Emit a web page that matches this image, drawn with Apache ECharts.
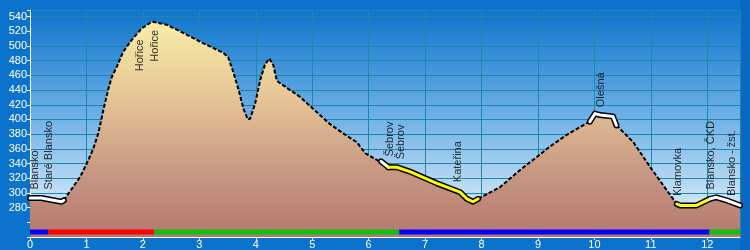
<!DOCTYPE html>
<html lang="cs">
<head>
<meta charset="UTF-8">
<title>Profil trasy</title>
<script src="https://cdn.jsdelivr.net/npm/echarts@6.0.0/dist/echarts.min.js"></script>
<style>
  html, body { margin: 0; padding: 0; background: #0b73cc; }
  #chart { width: 750px; height: 250px; }
</style>
</head>
<body>
<div id="chart"></div>
<script>
// profil: vzdalenost [km], nadmorska vyska [m]
const dist = [0, 0.2, 0.41, 0.56, 0.60, 0.68, 0.89, 1.03, 1.12, 1.21, 1.30, 1.39, 1.45, 1.54, 1.65, 1.80, 1.98, 2.16, 2.24, 2.42,
  2.66, 3.01, 3.25, 3.42, 3.51, 3.60, 3.69, 3.78, 3.86, 3.90, 3.99, 4.08, 4.16, 4.24, 4.31, 4.37, 4.40, 4.78, 5.08, 5.31,
  5.55, 5.79, 5.85, 5.94, 6.17, 6.22, 6.35, 6.50, 6.73, 7.21, 7.62, 7.74, 7.85, 7.94, 8.33, 8.68, 8.98, 9.21, 9.51, 9.80,
  9.92, 10.01, 10.10, 10.33, 10.39, 10.69, 10.99, 11.28, 11.46, 11.52, 11.81, 12.05, 12.16, 12.34, 12.58];
const elev = [293, 293, 290, 288, 290, 299, 322, 344, 360, 381, 413, 442, 458, 472, 492, 508, 524, 533, 532, 529,
  520, 506, 497, 491, 485, 465, 442, 415, 400, 401, 422, 454, 474, 483, 474, 454, 451, 431, 410, 394,
  381, 369, 363, 354, 344, 343, 335, 335, 329, 313, 301, 292, 288, 292, 308, 331, 349, 363, 379, 392,
  397, 408, 406, 404, 392, 369, 335, 304, 285, 283, 283, 292, 294, 290, 283];

// useky cary: od, do, typ
const segFrom = [0, 0.60, 6.22, 6.35, 7.94, 9.92, 10.39, 11.46, 12.05];
const segTo   = [0.60, 6.22, 6.35, 7.94, 9.92, 10.39, 11.46, 12.05, 12.58];
const segType = ['white', 'dash', 'white', 'yellow', 'dash', 'white', 'dash', 'yellow', 'white'];

// pruh dole: od, do, barva
const barFrom = [0, 0.32, 2.2, 6.54, 12.04];
const barTo   = [0.32, 2.2, 6.54, 12.04, 12.58];
const barColor = ['#0000ff', '#ff0000', '#10c010', '#0000ff', '#10c010'];

// popisky zastavek
const stopNames = ['Blansko', 'Staré Blansko', 'Hořice', 'Hořice', 'Šebrov', 'Šebrov', 'Kateřina', 'Olešná', 'Klamovka', 'Blansko, ČKD', 'Blansko - žst.'];
const stopDist  = [0.09, 0.34, 1.95, 2.23, 6.38, 6.59, 7.59, 10.13, 11.49, 12.08, 12.44];
const stopElev  = [304, 304, 465, 478, 349, 345, 314, 416, 295, 304, 295];

const profile = dist.map((d, i) => [d, elev[i]]);
const FONT = 'Arial, "Liberation Sans", sans-serif';
const BAR_LEVEL = 246.8;

const series = [];

series.push({
  type: 'line',
  data: profile,
  symbol: 'none',
  lineStyle: { width: 0 },
  areaStyle: {
    opacity: 1,
    color: new echarts.graphic.LinearGradient(0, 0, 0, 1, [
      { offset: 0, color: '#f8eda8' },
      { offset: 0.35, color: '#e6c596' },
      { offset: 0.7, color: '#c79884' },
      { offset: 1, color: '#b5786e' }
    ])
  },
  z: 2
});

segFrom.forEach((from, i) => {
  const pts = profile.filter(p => p[0] >= from && p[0] <= segTo[i]);
  const t = segType[i];
  if (t === 'dash') {
    series.push({
      type: 'line', data: pts, symbol: 'none', z: 3,
      lineStyle: { color: '#000', width: 2, type: [4, 2] }
    });
  } else {
    series.push({
      type: 'line', data: pts, symbol: 'none', z: 3,
      lineStyle: { color: '#000', width: 6, cap: 'round', join: 'round' }
    });
    series.push({
      type: 'line', data: pts, symbol: 'none', z: 4,
      lineStyle: { color: t === 'white' ? '#ffffff' : '#ffff00', width: 3, cap: 'round', join: 'round' }
    });
  }
});

barFrom.forEach((from, i) => {
  series.push({
    type: 'line', symbol: 'none', z: 5,
    data: [[from, BAR_LEVEL], [barTo[i], BAR_LEVEL]],
    lineStyle: { color: barColor[i], width: 5, cap: 'butt' }
  });
});

series.push({
  type: 'scatter',
  symbolSize: 1,
  itemStyle: { color: 'rgba(0,0,0,0)' },
  z: 6,
  data: stopNames.map((n, i) => ({ name: n, value: [stopDist[i], stopElev[i]] })),
  label: {
    show: true,
    formatter: p => p.name,
    position: [0, 0],
    rotate: 90,
    align: 'left',
    verticalAlign: 'middle',
    color: '#000',
    fontFamily: FONT,
    fontSize: 11
  }
});

const chart = echarts.init(document.getElementById('chart'));
chart.setOption({
  animation: false,
  backgroundColor: '#0b73cc',
  graphic: [{
    type: 'rect', right: 0, top: 0, shape: { width: 10, height: 250 },
    style: { fill: '#0a67c2' }, z: -1
  }],
  grid: {
    left: 30, right: 10, top: 10, bottom: 13,
    show: true,
    borderWidth: 0,
    backgroundColor: new echarts.graphic.LinearGradient(0, 0, 0, 1, [
      { offset: 0, color: '#0f74cc' },
      { offset: 0.45, color: '#6aaee6' },
      { offset: 0.85, color: '#cde4f6' },
      { offset: 1, color: '#e4f2fb' }
    ])
  },
  xAxis: {
    type: 'value', min: 0, max: 12.58, interval: 1,
    axisLine: { show: true, onZero: false, lineStyle: { color: '#fff', width: 1 } },
    axisTick: { show: true, length: 3, lineStyle: { color: '#fff' } },
    axisLabel: { color: '#fff', fontFamily: FONT, fontSize: 11, margin: 2, showMaxLabel: false },
    splitLine: { show: true, lineStyle: { color: '#1e88aa', width: 1 } }
  },
  yAxis: {
    type: 'value', min: 240, max: 549, interval: 20,
    axisLine: { show: true, lineStyle: { color: '#fff', width: 1 } },
    axisTick: { show: true, length: 3, lineStyle: { color: '#fff' } },
    axisLabel: {
      color: '#fff', fontFamily: FONT, fontSize: 11, margin: 3,
      formatter: v => (v >= 280 && v <= 540) ? String(v) : ''
    },
    splitLine: { show: true, lineStyle: { color: '#1e88aa', width: 1 } }
  },
  series: series
});
</script>
</body>
</html>
